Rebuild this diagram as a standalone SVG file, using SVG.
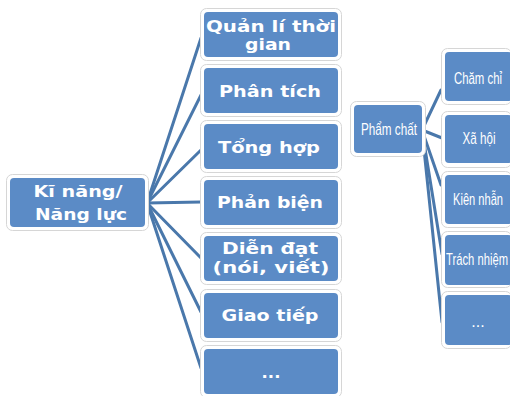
<svg xmlns="http://www.w3.org/2000/svg" width="510" height="396" viewBox="0 0 510 396">
  <style>
    .frame { fill: #ffffff; stroke: #d6d6d6; stroke-width: 1; }
    .box { fill: #5b8bc6; }
    .lbl { fill: #ffffff; font-family: "DejaVu Sans", Verdana, sans-serif; font-weight: bold; font-size: 16.5px; text-anchor: middle; }
    .lbl2 { fill: #ffffff; font-family: "Liberation Sans", Arial, sans-serif; font-size: 16px; text-anchor: middle; }
    .conn line { stroke: #4a78ab; stroke-width: 3; stroke-linecap: round; }
  </style>
  <rect width="510" height="396" fill="#ffffff"/>

  <!-- connectors -->
  <g id="connectors" class="conn">
    <line x1="147" y1="203" x2="201" y2="38"/>
    <line x1="147" y1="203" x2="201" y2="95"/>
    <line x1="147" y1="203" x2="201" y2="150"/>
    <line x1="147" y1="203" x2="201" y2="202"/>
    <line x1="147" y1="203" x2="201" y2="258"/>
    <line x1="147" y1="203" x2="201" y2="312"/>
    <line x1="147" y1="203" x2="201" y2="368"/>
    <line x1="422" y1="130" x2="441" y2="90"/>
    <line x1="422" y1="130" x2="442" y2="138"/>
    <line x1="422" y1="130" x2="441" y2="185"/>
    <line x1="422" y1="130" x2="442" y2="254"/>
    <line x1="422" y1="130" x2="442" y2="322"/>
  </g>

  <!-- skills root -->
  <g id="kinang">
    <rect class="frame" x="6.5" y="174.5" width="142" height="56" rx="6"/>
    <rect class="box" x="10" y="178" width="135" height="49" rx="4"/>
    <text class="lbl" x="78" y="197" textLength="89" lengthAdjust="spacingAndGlyphs">Kĩ năng/</text>
    <text class="lbl" x="81" y="220" textLength="92" lengthAdjust="spacingAndGlyphs">Năng lực</text>
  </g>

  <!-- skills list -->
  <g id="quanli">
    <rect class="frame" x="200.5" y="8.5" width="141" height="52" rx="6"/>
    <rect class="box" x="204" y="12" width="134" height="45" rx="4"/>
    <text class="lbl" x="271" y="32" textLength="130" lengthAdjust="spacingAndGlyphs">Quản lí thời</text>
    <text class="lbl" x="268" y="50" textLength="46" lengthAdjust="spacingAndGlyphs">gian</text>
  </g>
  <g id="phantich">
    <rect class="frame" x="200.5" y="64.5" width="141" height="52" rx="6"/>
    <rect class="box" x="204" y="68" width="134" height="45" rx="4"/>
    <text class="lbl" x="270" y="97" textLength="102" lengthAdjust="spacingAndGlyphs">Phân tích</text>
  </g>
  <g id="tonghop">
    <rect class="frame" x="200.5" y="120.5" width="141" height="52" rx="6"/>
    <rect class="box" x="204" y="124" width="134" height="45" rx="4"/>
    <text class="lbl" x="269" y="153" textLength="102" lengthAdjust="spacingAndGlyphs">Tổng hợp</text>
  </g>
  <g id="phanbien">
    <rect class="frame" x="200.5" y="176.5" width="141" height="52" rx="6"/>
    <rect class="box" x="204" y="180" width="134" height="45" rx="4"/>
    <text class="lbl" x="270" y="208" textLength="106" lengthAdjust="spacingAndGlyphs">Phản biện</text>
  </g>
  <g id="diendat">
    <rect class="frame" x="200.5" y="232.5" width="141" height="52" rx="6"/>
    <rect class="box" x="204" y="236" width="134" height="45" rx="4"/>
    <text class="lbl" x="270" y="254" textLength="96" lengthAdjust="spacingAndGlyphs">Diễn đạt</text>
    <text class="lbl" x="271" y="273" textLength="117" lengthAdjust="spacingAndGlyphs">(nói, viết)</text>
  </g>
  <g id="giaotiep">
    <rect class="frame" x="200.5" y="289.5" width="141" height="52" rx="6"/>
    <rect class="box" x="204" y="293" width="134" height="45" rx="4"/>
    <text class="lbl" x="270" y="321" textLength="97" lengthAdjust="spacingAndGlyphs">Giao tiếp</text>
  </g>
  <g id="khac1">
    <rect class="frame" x="200.5" y="345.5" width="141" height="52" rx="6"/>
    <rect class="box" x="204" y="349" width="134" height="45" rx="4"/>
    <text class="lbl" x="271" y="378">...</text>
  </g>

  <!-- qualities root -->
  <g id="phamchat">
    <rect class="frame" x="350.5" y="101.5" width="75" height="55" rx="6"/>
    <rect class="box" x="354" y="105" width="68" height="48" rx="4"/>
    <text class="lbl2" transform="translate(389 135) scale(0.72 1)" textLength="77.8" lengthAdjust="spacingAndGlyphs">Phẩm chất</text>
  </g>

  <!-- qualities list (running up to the right edge), condensed labels -->
  <g id="chamchi">
    <rect class="frame" x="441.5" y="48.5" width="70" height="56" rx="6"/>
    <rect class="box" x="445" y="52" width="67" height="49" rx="4"/>
    <text class="lbl2" transform="translate(478 84) scale(0.72 1)" textLength="66.7" lengthAdjust="spacingAndGlyphs">Chăm chỉ</text>
  </g>
  <g id="xahoi">
    <rect class="frame" x="441.5" y="111.5" width="70" height="56" rx="6"/>
    <rect class="box" x="445" y="115" width="67" height="48" rx="4"/>
    <text class="lbl2" transform="translate(479 144) scale(0.72 1)" textLength="45.8" lengthAdjust="spacingAndGlyphs">Xã hội</text>
  </g>
  <g id="kiennhan">
    <rect class="frame" x="441.5" y="171.5" width="70" height="56" rx="6"/>
    <rect class="box" x="445" y="175" width="67" height="49" rx="4"/>
    <text class="lbl2" transform="translate(478 205) scale(0.72 1)" textLength="69.4" lengthAdjust="spacingAndGlyphs">Kiên nhẫn</text>
  </g>
  <g id="trachnhiem">
    <rect class="frame" x="441.5" y="231.5" width="70" height="56" rx="6"/>
    <rect class="box" x="445" y="235" width="67" height="50" rx="4"/>
    <text class="lbl2" transform="translate(477 265) scale(0.72 1)" textLength="86.1" lengthAdjust="spacingAndGlyphs">Trách nhiệm</text>
  </g>
  <g id="khac2">
    <rect class="frame" x="441.5" y="291.5" width="70" height="57" rx="6"/>
    <rect class="box" x="445" y="295" width="67" height="50" rx="4"/>
    <text class="lbl2" x="478" y="327" font-size="12">...</text>
  </g>
</svg>
